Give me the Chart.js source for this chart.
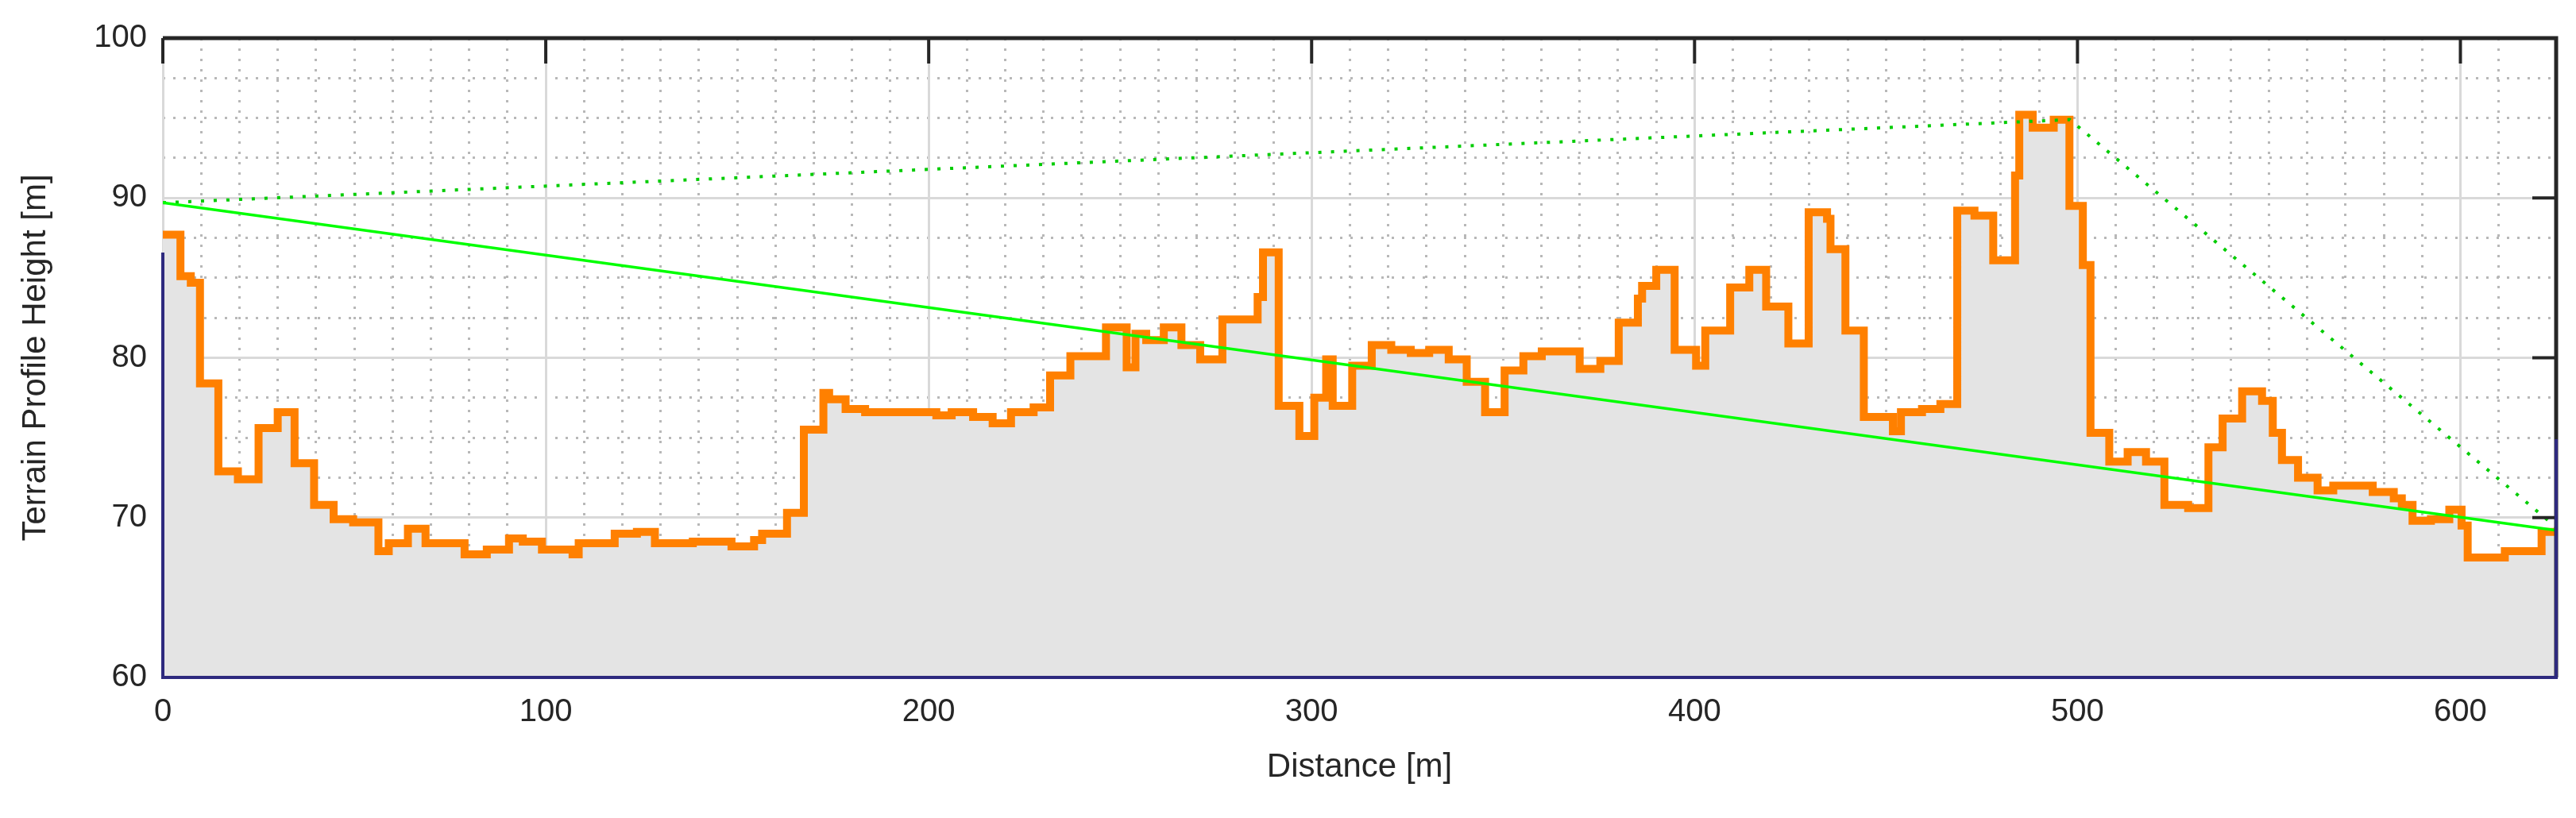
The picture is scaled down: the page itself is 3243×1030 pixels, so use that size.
<!DOCTYPE html>
<html><head><meta charset="utf-8">
<script src="https://cdn.jsdelivr.net/npm/chart.js@4"></script>
<style>html,body{margin:0;padding:0;background:#fff}#wrap{width:3243px;height:1030px}</style>
</head><body><div id="wrap"><canvas id="c" width="3243" height="1030"></canvas></div>
<script>
const distances = [0,4.6,7.3,9.7,14.5,19.6,25,30,34.4,39.5,44.6,49.7,56.3,59,64,68.6,78.8,84.6,90.4,94,99,107,108.6,118,123.8,128.5,138.4,148.5,154.4,156.5,163,167.4,172.5,174,178.3,183.4,202,206,211.6,216.7,221.5,227.4,231.7,237,246.3,251.7,254,256.8,261.4,266,270.9,276.7,285.9,287.3,291.4,296.8,300.7,303.8,305.5,310.6,315.7,320.8,325.9,330.7,335.8,340.5,345.3,350.4,355.3,360.1,370,375.4,380.2,385.2,386.3,390,394.8,400.4,402.8,409.3,414.3,418.7,424.5,429.8,434.6,435.5,439.4,444.2,451.8,453.9,459.4,464.2,468.6,473.1,478,483.7,484.8,488.3,493.8,497.9,501.4,503.4,508.3,513.1,517.9,522.7,528.9,534.2,537.9,543,548.2,551,553.4,557.6,562.7,566.8,577.1,582.6,584.7,587.5,592.3,597.1,600.3,601.9,611.6,621.2,625];
const heights = [87.7,85.1,84.7,78.4,72.9,72.4,75.6,76.6,73.4,70.8,69.9,69.7,67.9,68.4,69.3,68.4,67.7,68.0,68.7,68.5,68.0,67.7,68.4,69.0,69.1,68.4,68.5,68.2,68.6,69.0,70.3,75.5,77.8,77.4,76.8,76.6,76.4,76.6,76.3,75.9,76.6,76.9,78.9,80.1,81.9,79.4,81.5,81.1,81.9,80.8,79.9,82.4,83.8,86.6,77.0,75.1,77.5,79.9,77.0,79.5,80.8,80.5,80.3,80.5,79.9,78.5,76.6,79.2,80.1,80.4,79.3,79.8,82.2,83.7,84.5,85.5,80.5,79.5,81.7,84.4,85.5,83.2,80.9,89.1,88.7,86.8,81.7,76.3,75.4,76.6,76.8,77.1,89.2,88.9,86.1,91.4,95.2,94.4,94.9,89.5,85.8,75.3,73.5,74.1,73.5,70.8,70.6,74.4,76.2,77.9,77.3,75.3,73.6,72.5,71.7,72.0,71.6,71.2,70.8,69.8,69.9,70.5,69.5,67.5,67.9,69.1,69.1];
const losX = [0,625];
const losY = [89.7,69.2];
const pathX = [0,498,625];
const pathY = [89.7,94.9,69.4];
const xTicks = [0,100,200,300,400,500,600];
const yTicks = [60,70,80,90,100];

const pts = (xs,ys)=>xs.map((x,i)=>({x,y:ys[i]}));
const FONT = "'Liberation Sans', Arial, sans-serif";

const frame = {
  id:'frame',
  afterDraw(ch){
    const a=ch.chartArea, c=ch.ctx, xs=ch.scales.x, ys=ch.scales.y;
    c.save();
    c.lineWidth=5; c.strokeStyle='#262626';
    c.beginPath(); c.moveTo(a.left,a.top); c.lineTo(a.right,a.top); c.lineTo(a.right,a.bottom); c.stroke();
    c.lineWidth=4;
    xTicks.forEach(v=>{const px=xs.getPixelForValue(v); c.beginPath(); c.moveTo(px,a.top); c.lineTo(px,a.top+32); c.stroke();});
    yTicks.forEach(v=>{const py=ys.getPixelForValue(v); c.beginPath(); c.moveTo(a.right,py); c.lineTo(a.right-30,py); c.stroke();});
    c.strokeStyle='#2e2a7e'; c.lineWidth=4;
    c.beginPath(); c.moveTo(a.left,a.top+270); c.lineTo(a.left,a.bottom); c.lineTo(a.right,a.bottom); c.lineTo(a.right,a.bottom-300); c.stroke();
    c.restore();
  }
};

new Chart(document.getElementById('c'),{
  type:'line',
  data:{datasets:[
    {data:pts(pathX,pathY),borderColor:'#00cc00',borderWidth:4,borderDash:[4,12],pointRadius:0,fill:false,order:1},
    {data:pts(losX,losY),borderColor:'#00ff00',borderWidth:3.5,pointRadius:0,fill:false,order:0},
    {data:pts(distances,heights),stepped:true,borderColor:'#ff8000',borderWidth:10,pointRadius:0,fill:'start',backgroundColor:'#e4e4e4',order:2}
  ]},
  plugins:[frame],
  options:{
    responsive:false,animation:false,devicePixelRatio:1,
    layout:{padding:{left:0,right:25,top:48,bottom:0}},
    plugins:{legend:{display:false},tooltip:{enabled:false}},
    scales:{
      xm:{type:'linear',min:0,max:625,position:'bottom',display:true,
        ticks:{display:false,stepSize:10},border:{display:false,dash:[3,10]},
        grid:{drawTicks:false,color:(c)=>c.tick&&c.tick.value%100===0?'rgba(0,0,0,0)':'#b8b8b8',lineWidth:3},
        afterFit(s){s.height=0;}},
      ym:{type:'linear',min:60,max:100,position:'left',display:true,
        ticks:{display:false,stepSize:2.5},border:{display:false,dash:[3,10]},
        grid:{drawTicks:false,color:(c)=>c.tick&&c.tick.value%10===0?'rgba(0,0,0,0)':'#b8b8b8',lineWidth:3},
        afterFit(s){s.width=0;}},
      x:{type:'linear',min:0,max:625,position:'bottom',
        afterBuildTicks(s){s.ticks=xTicks.map(v=>({value:v}));},
        ticks:{font:{family:FONT,size:40},color:'#262626',padding:20,maxRotation:0},
        border:{display:false},
        grid:{drawTicks:false,color:'#d9d9d9',lineWidth:3},
        title:{display:true,text:'Distance [m]',font:{family:FONT,size:42},color:'#262626',padding:{top:0,bottom:38}},
        afterFit(s){s.height=177;}},
      y:{type:'linear',min:60,max:100,position:'left',
        afterBuildTicks(s){s.ticks=yTicks.map(v=>({value:v}));},
        ticks:{font:{family:FONT,size:40},color:'#262626',padding:20},
        border:{display:false},
        grid:{drawTicks:false,color:'#d9d9d9',lineWidth:3},
        title:{display:true,text:'Terrain Profile Height [m]',font:{family:FONT,size:42},color:'#262626',padding:{top:20,bottom:0}},
        afterFit(s){s.width=205;}}
    }
  }
});
</script></body></html>
